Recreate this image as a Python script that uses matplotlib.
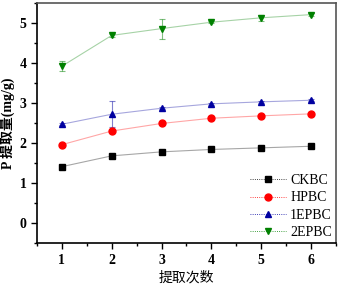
import matplotlib.pyplot as plt
from matplotlib.ticker import MultipleLocator
from matplotlib.lines import Line2D

# datos
extracciones = [1, 2, 3, 4, 5, 6]
ckbc = [1.41, 1.68, 1.78, 1.84, 1.88, 1.92]
hpbc = [1.96, 2.30, 2.49, 2.62, 2.68, 2.73]
ep1 = [2.47, 2.72, 2.87, 2.98, 3.03, 3.07]
ep2 = [3.92, 4.69, 4.86, 5.02, 5.13, 5.21]
err_ckbc = [0.02, 0.02, 0.02, 0.02, 0.02, 0.02]
err_hpbc = [0.03, 0.03, 0.03, 0.03, 0.03, 0.03]
err_ep1 = [0.03, 0.33, 0.03, 0.03, 0.03, 0.03]
err_ep2 = [0.12, 0.03, 0.25, 0.03, 0.08, 0.03]

plt.rcParams['font.family'] = ['Liberation Serif', 'Noto Sans CJK SC']

fig = plt.figure(figsize=(3.39, 2.86), dpi=100)
ax = fig.add_axes([0.109, 0.150, 0.882, 0.8395])

series = [
    (ckbc, err_ckbc, 'black', 's', 'CKBC'),
    (hpbc, err_hpbc, 'red', 'o', 'HPBC'),
    (ep1, err_ep1, '#0000a0', '^', '1EPBC'),
    (ep2, err_ep2, 'green', 'v', '2EPBC'),
]
for y, e, c, m, lab in series:
    ax.errorbar(extracciones, y, yerr=e, fmt='none', ecolor=c, alpha=0.5,
                elinewidth=0.8, capsize=2.5, capthick=0.8)
    ax.plot(extracciones, y, color=c, lw=0.8, alpha=0.35, ls='-', zorder=2)
    ax.plot(extracciones, y, ls='none', marker=m, ms=5, color=c, zorder=3)

# handles de la leyenda: linea + marcador
handles = [Line2D([], [], color=c, lw=0.6, ls=':', marker=m, ms=5,
                  markerfacecolor=c, markeredgecolor=c)
           for _, _, c, m, _ in series]
ax.legend(handles, [s[4] for s in series], loc='lower right', frameon=False,
          bbox_to_anchor=(1.005, -0.005), borderaxespad=0,
          handlelength=2.6, handletextpad=0.3, labelspacing=0.3,
          prop={'family': 'Liberation Serif', 'size': 10})

ax.set_xlim(0.5, 6.5)
ax.set_ylim(-0.5, 5.5)
ax.xaxis.set_major_locator(MultipleLocator(1))
ax.xaxis.set_minor_locator(MultipleLocator(0.5))
ax.yaxis.set_major_locator(MultipleLocator(1))
ax.yaxis.set_minor_locator(MultipleLocator(0.5))
ax.tick_params(which='major', length=4, width=1, labelsize=10)
ax.tick_params(which='minor', length=2, width=1)
for t in ax.get_xticklabels() + ax.get_yticklabels():
    t.set_fontweight('bold')
for s in ax.spines.values():
    s.set_linewidth(1.2)
ax.spines['top'].set_color('#555555')
ax.spines['right'].set_color('#555555')

ax.set_xlabel('提取次数', fontsize=10, labelpad=3)
ax.set_ylabel('P 提取量(mg/g)', fontsize=10, fontweight='bold', labelpad=3)

plt.savefig('out.png', dpi=100)
